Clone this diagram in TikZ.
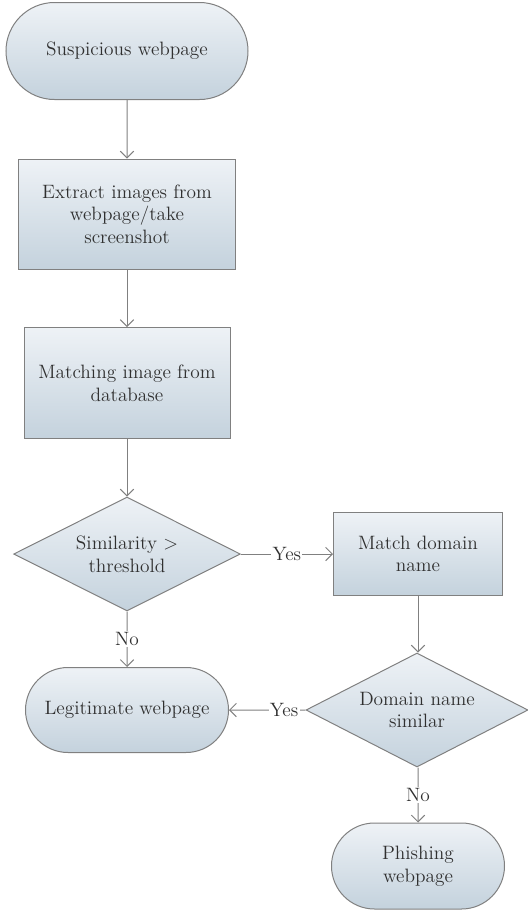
\documentclass[tikz,border=0pt]{standalone}
\usepackage{tikz}
\usetikzlibrary{shapes,arrows.meta,positioning,calc}
\definecolor{boxtop}{HTML}{EEF2F6}
\definecolor{boxbot}{HTML}{C4D2DD}
\definecolor{edgegray}{HTML}{808080}
\definecolor{txtgray}{HTML}{303030}

\begin{document}
\begin{tikzpicture}[x=0.75pt,y=-0.75pt,
    every node/.style={font=\fontsize{14.5}{17}\selectfont, text=txtgray},
    shaded/.style={draw=edgegray, line width=0.75pt, top color=boxtop, bottom color=boxbot, align=center, inner sep=0pt},
    terminal/.style={shaded, rounded rectangle},
    process/.style={shaded, rectangle},
    decision/.style={shaded, diamond, shape aspect=2},
    flow/.style={draw=edgegray, line width=0.75pt, -{Straight Barb[length=5pt,width=10pt]}},
    answer/.style={fill=white, inner sep=1pt}]
    \useasboundingbox (0,0) rectangle (528,915);
    % left column
    \node[terminal, minimum width=181.5pt, minimum height=72.75pt] (start) at (127,51) {Suspicious webpage};
    \node[process, minimum width=162.75pt, minimum height=82.5pt] (extract) at (127,214) {Extract images from\\webpage/take\\screenshot};
    \node[process, minimum width=154.5pt, minimum height=83.25pt] (match) at (127,383) {Matching image from\\database};
    \node[decision, minimum width=170pt, minimum height=85.5pt] (sim) at (127,554) {Similarity >\\threshold};
    \node[terminal, minimum width=152.25pt, minimum height=63.75pt] (legit) at (127,710) {Legitimate webpage};
    % right column
    \node[process, minimum width=126.75pt, minimum height=62.25pt] (domain) at (418,554) {Match domain\\name};
    \node[decision, minimum width=166.5pt, minimum height=85.5pt] (dsim) at (417,710) {Domain name\\similar};
    \node[terminal, minimum width=129.75pt, minimum height=64.5pt] (phish) at (418,866) {Phishing\\webpage};

    \draw[flow] (start) -- (extract);
    \draw[flow] (extract) -- (match);
    \draw[flow] (match) -- (sim);
    \draw[flow] (sim) -- node[answer] {Yes} (domain);
    \draw[flow] (sim) -- node[answer] {No} (legit);
    \draw[flow] (domain.south) -- (domain.south |- dsim.north);
    \draw[flow] (dsim) -- node[answer, pos=0.28] {Yes} (legit);
    \draw[flow] (dsim.south -| phish) -- node[answer] {No} (phish);
\end{tikzpicture}
\end{document}
